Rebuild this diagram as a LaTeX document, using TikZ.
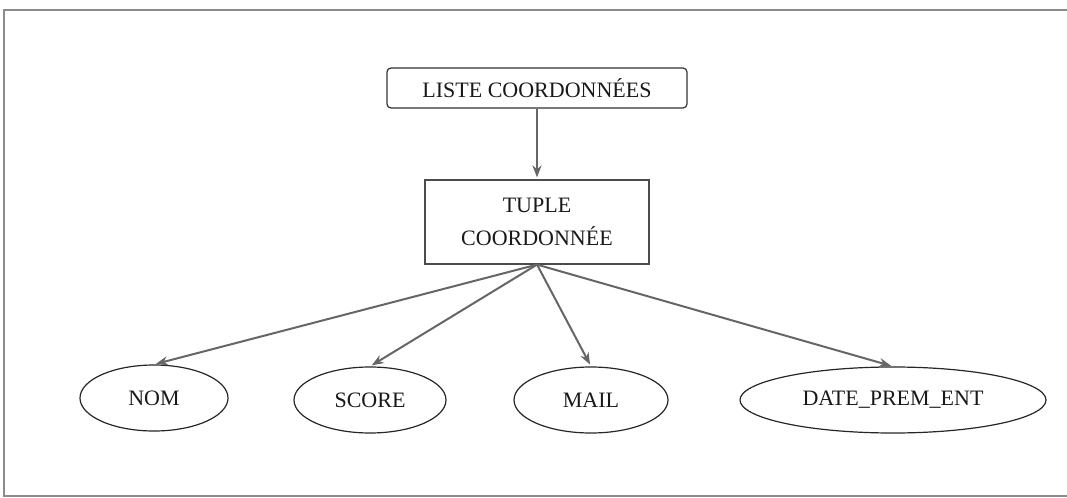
\documentclass[tikz,border=0pt]{standalone}
\usepackage{fontspec}
\setmainfont{Liberation Serif}
\usetikzlibrary{shapes.geometric,arrows.meta}
\begin{document}
\begin{tikzpicture}[x=0.5pt,y=-0.5pt,shorten >=1pt,draw=black!100]
	\def \rowoneht{88}
	\def \rowtwoht{222}
	\def \rowthreeht{400}
	\tikzstyle{l-node}=[draw=black!80,rounded corners=2pt,line width=0.6pt,minimum width=150pt,minimum height=20pt,inner sep=0pt,text=black!90,font=\fontsize{11}{13}\selectfont]
	\tikzstyle{t-node}=[draw=black!70,line width=0.6pt,minimum width=112pt,minimum height=42pt,inner sep=0pt,align=center,text=black!90,font=\fontsize{11}{16.5}\selectfont]
	\tikzstyle{a-node}=[ellipse,draw=black!85,line width=0.6pt,minimum height=33pt,inner sep=0pt,text=black!90,font=\fontsize{11}{13}\selectfont]
	\tikzstyle{link}=[-{Stealth[length=6pt,width=4.5pt]},draw=black!60,line width=1pt]
	\useasboundingbox (0,0) rectangle (1067,498);
	% frame
	\draw[black!45,line width=0.8pt] (1080,10) -- (4,10) -- (4,496) -- (1080,496);

	% list
	\node[l-node] 	(liste)	at (537,\rowoneht)	{LISTE COORDONNÉES};

	% tuple
	\node[t-node] 	(tuple)	at (537,\rowtwoht)	{TUPLE\\COORDONNÉE};

	% attributes
	\node[a-node,minimum width=74pt] 	(nom)	at (154,\rowthreeht-2)	{NOM};
	\node[a-node,minimum width=76pt] 	(score)	at (370,\rowthreeht)	{SCORE};
	\node[a-node,minimum width=77pt] 	(mail)	at (591,\rowthreeht)	{MAIL};
	\node[a-node,minimum width=153pt] 	(date)	at (893,\rowthreeht)	{DATE\_PREM\_ENT};

	\path
		(liste)	edge[link]	(tuple)
		%
		(tuple.south)	edge[link]	(nom.north)
		(tuple.south)	edge[link]	(score.north)
		(tuple.south)	edge[link]	(mail.north)
		(tuple.south)	edge[link]	(date.north);
\end{tikzpicture}
\end{document}
